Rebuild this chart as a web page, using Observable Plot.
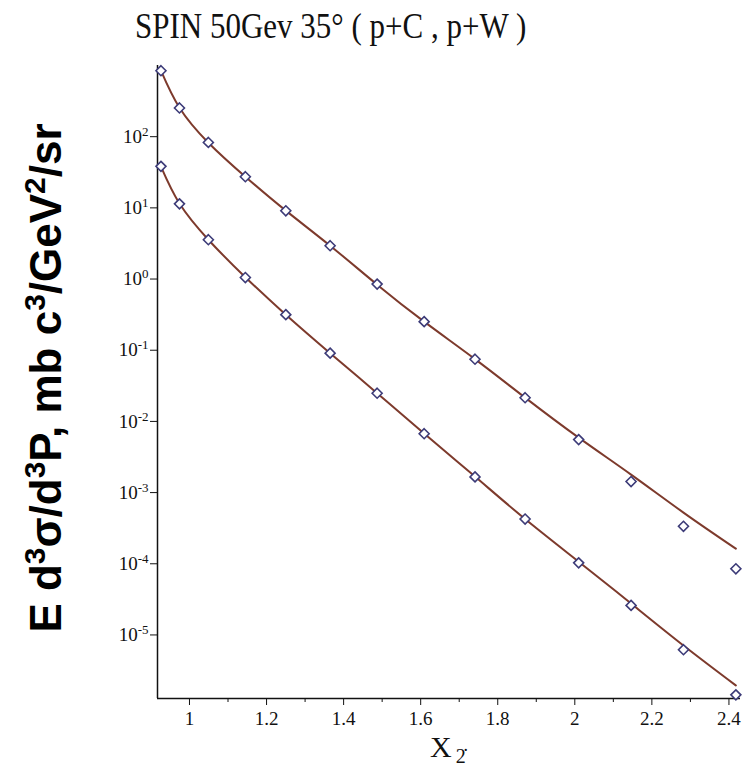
<!DOCTYPE html>
<html>
<head>
<meta charset="utf-8">
<script src="https://cdn.jsdelivr.net/npm/d3@7"></script>
<script src="https://cdn.jsdelivr.net/npm/@observablehq/plot@0.6"></script>
<style>
  html, body { margin: 0; padding: 0; background: #fff; }
  #wrap { position: relative; width: 747px; height: 769px; overflow: hidden; }
  #title { position: absolute; left: 135px; top: 12px; font-family: "Liberation Serif", serif; font-size: 31px; line-height: 31px; white-space: nowrap; color: #111; transform: scaleY(1.15); transform-origin: 0 26px; }
  #ylab { position: absolute; left: 46px; top: 378px; font-family: "Liberation Sans", Arial, sans-serif; font-weight: bold; font-size: 44px; white-space: nowrap; color: #000; transform: translate(-50%, -50%) rotate(-90deg); line-height: 1; }
  #ylab sup { font-size: 0.68em; vertical-align: 0.55em; line-height: 0; }
  #xlab { position: absolute; left: 430px; top: 732px; font-family: "Liberation Serif", serif; font-size: 30px; line-height: 30px; white-space: nowrap; color: #111; }
  #xlab sub { font-size: 20px; vertical-align: -6px; margin-left: 4px; }
  svg { position: absolute; left: 0; top: 0; }
</style>
</head>
<body>
<div id="wrap">
  <div id="chart"></div>
  <div id="title">SPIN 50Gev 35° ( p+C , p+W )</div>
  <div id="ylab">E d<sup>3</sup>σ/d<sup>3</sup>P, mb c<sup>3</sup>/GeV<sup>2</sup>/sr</div>
  <div id="xlab">X<sub>2&#x307;</sub></div>
</div>
<script>
// x values (x_2)
const xValues = [0.926, 0.974, 1.049, 1.145, 1.250, 1.365, 1.487, 1.609, 1.741, 1.871, 2.010, 2.146, 2.282, 2.418];
// upper series (p+W): measured points and fitted curve
const pWPoints = [845, 253, 83, 27.4, 9.1, 2.94, 0.85, 0.252, 0.0748, 0.0215, 0.00555, 0.00143, 0.000336, 8.5e-5];
const pWFit    = [845, 255, 82.3, 27.4, 9.14, 2.94, 0.834, 0.252, 0.075, 0.0216, 0.00592, 0.00179, 0.000524, 0.000163];
// lower series (p+C): measured points and fitted curve
const pCPoints = [38.3, 11.4, 3.57, 1.05, 0.316, 0.091, 0.0249, 0.00671, 0.00166, 0.000425, 0.000103, 2.6e-5, 6.2e-6, 1.44e-6];
const pCFit    = [37.9, 11.5, 3.57, 1.06, 0.316, 0.091, 0.0249, 0.00675, 0.00168, 0.000425, 0.000107, 2.76e-5, 7.1e-6, 1.95e-6];
// axis ticks
const xTicks = [1, 1.2, 1.4, 1.6, 1.8, 2, 2.2, 2.4];
const xMinorTicks = [1.1, 1.3, 1.5, 1.7, 1.9, 2.1, 2.3];
const yTicks = [1e2, 1e1, 1e0, 1e-1, 1e-2, 1e-3, 1e-4, 1e-5];

const rows = (name, ys) => xValues.map((x, i) => ({series: name, x, y: ys[i]}));
const points = [...rows("p+W", pWPoints), ...rows("p+C", pCPoints)];
const fits = [...rows("p+W", pWFit), ...rows("p+C", pCFit)];

const xDomain = [0.917, 2.43];
const yDomain = [1.28e-6, 1000];

const lineColor = "#7d3a2c";
const dotColor = "#3c3b78";

const chart = Plot.plot({
  width: 747,
  height: 769,
  marginLeft: 157,
  marginRight: 7,
  marginTop: 65,
  marginBottom: 71,
  style: {fontFamily: "Liberation Serif, serif", fontSize: "18px", color: "#111", background: "transparent"},
  x: {domain: xDomain, label: null},
  y: {type: "log", domain: yDomain, label: null},
  marks: [
    Plot.axisX(xTicks, {tickSize: 7, tickPadding: 6, tickFormat: d => String(d), label: null, stroke: "#111", fontSize: 19}),
    Plot.axisX(xMinorTicks, {tickSize: 4, tickFormat: () => "", label: null, stroke: "#111"}),
    Plot.axisY(yTicks, {tickSize: 7, tickPadding: 2, tickFormat: d => "10^" + Math.round(Math.log10(d)), label: null, stroke: "#111", fontSize: 19}),
    Plot.ruleX([xDomain[0]], {stroke: "#111", strokeWidth: 1.5}),
    Plot.ruleY([yDomain[0]], {stroke: "#111", strokeWidth: 1.5}),
    Plot.line(fits, {x: "x", y: "y", z: "series", stroke: lineColor, strokeWidth: 2, curve: "natural"}),
    Plot.dot(points, {x: "x", y: "y", symbol: "diamond2", r: 4.5, stroke: dotColor, strokeWidth: 1.6, fill: "white"})
  ]
});

// render exponents as superscripts in y tick labels
chart.querySelectorAll("text").forEach(t => {
  const s = t.textContent;
  if (s.startsWith("10^")) {
    const exp = s.slice(3);
    t.textContent = "10";
    const ts = document.createElementNS("http://www.w3.org/2000/svg", "tspan");
    ts.setAttribute("baseline-shift", "super");
    ts.setAttribute("font-size", "13px");
    ts.textContent = exp;
    t.appendChild(ts);
  }
});

document.getElementById("chart").appendChild(chart);
</script>
</body>
</html>
